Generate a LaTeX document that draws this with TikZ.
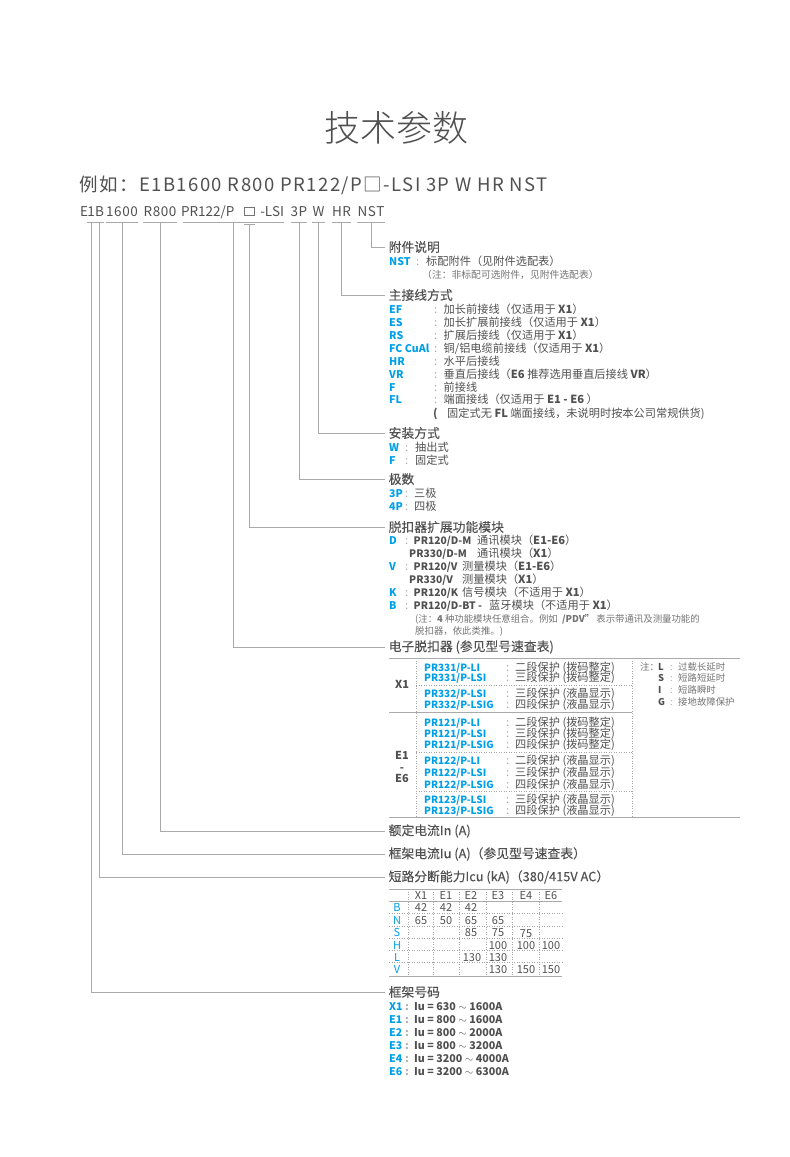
\documentclass[tikz,border=0pt]{standalone}
\usepackage{fontspec}
\setmainfont{Noto Sans CJK SC}
\newfontfamily\lightfont{Noto Sans CJK SC Light}
\usepackage{xcolor}
\usetikzlibrary{positioning}
\definecolor{ink}{RGB}{80, 80, 80}
\definecolor{soft}{RGB}{115, 115, 115}
\definecolor{keyblue}{RGB}{0, 160, 233}
\definecolor{wire}{RGB}{170, 170, 170}
\definecolor{faint}{RGB}{165, 165, 165}
\newcommand{\sep}[1]{\makebox[#1pt][l]{\textcolor{wire}{:}}}
\newcommand{\modl}[1]{{\fontsize{10.3}{12}\bfseries\selectfont #1}}
\tikzstyle{code} = [
    anchor=south,
    inner sep=0pt,
    text height=10pt,
    text depth=5pt,
    text=ink,
    font=\fontsize{13.5}{14}\addfontfeatures{LetterSpace=4}\selectfont
]
\tikzstyle{heading} = [
    anchor=west,
    inner xsep=3.5pt,
    inner ysep=0pt,
    text=ink,
    font=\fontsize{12.8}{14}\addfontfeatures{FakeBold=0.15}\selectfont
]
\tikzstyle{key} = [
    anchor=west,
    inner sep=0pt,
    text height=10pt,
    text depth=2pt,
    text=keyblue,
    font=\fontsize{10.6}{12}\bfseries\selectfont
]
\tikzstyle{tkey} = [
    key,
    font=\fontsize{10}{12}\bfseries\selectfont
]
\tikzstyle{val} = [
    anchor=west,
    inner sep=0pt,
    text height=10pt,
    text depth=2pt,
    text=ink,
    font=\fontsize{11.2}{12}\selectfont
]
\tikzstyle{rate} = [
    val,
    font=\fontsize{10.7}{12}\bfseries\selectfont
]
\tikzstyle{small} = [
    anchor=west,
    inner sep=0pt,
    text height=10pt,
    text depth=2pt,
    text=soft,
    font=\fontsize{9.4}{11}\selectfont
]
\tikzstyle{smallkey} = [
    small,
    text=ink,
    font=\fontsize{9.4}{11}\bfseries\selectfont
]
\tikzstyle{cell} = [
    inner sep=0pt,
    text height=10pt,
    text depth=2pt,
    text=ink,
    font=\fontsize{11}{12}\selectfont
]
\tikzstyle{framecell} = [
    cell,
    font=\fontsize{11}{12}\bfseries\selectfont
]
\tikzstyle{link} = [
    wire,
    line width=0.9pt
]
\tikzstyle{rule} = [
    wire,
    line width=1pt
]
\tikzstyle{dots} = [
    faint,
    line width=0.5pt,
    dotted
]
\begin{document}
\begin{tikzpicture}[x=1pt, y=-1pt]
    \useasboundingbox (0,0) rectangle (790,1157);
    \node[text=ink, font=\lightfont\fontsize{36}{40}\selectfont, inner sep=0pt] (title) at (396,128) {技术参数};
    \node[anchor=west, inner sep=0pt, text=ink, font=\fontsize{18.5}{20}\addfontfeatures{LetterSpace=7.9}\selectfont] (sample) at (79,185) {例如：E1B1600 R800 PR122/P□-LSI 3P W HR NST};

    % model code, split into the parts the leaders start from
    \node[code, minimum width=8pt] (codeE) at (84,222) {E};
    \node[code, minimum width=6pt] (codeOne) at (91,222) {1};
    \node[code, minimum width=7pt] (codeB) at (99.5,222) {B};
    \node[code, minimum width=30pt] (codeRated) at (122,222) {1600};
    \node[code, minimum width=34pt] (codeR) at (160,222) {R800};
    \node[code, minimum width=101pt, font=\fontsize{13.5}{14}\selectfont] (codePR) at (233.5,222) {\makebox[101pt]{\hspace{-2pt}PR122/P\hfill-LSI}};
    \node[draw=soft, line width=0.5pt, minimum width=10pt, minimum height=8.5pt, inner sep=0pt] (codeBox) at (249.5,211) {};
    \node[code, minimum width=16pt] (codeP) at (299,222) {3P};
    \node[code, minimum width=11pt] (codeW) at (318.5,222) {W};
    \node[code, minimum width=19pt] (codeHR) at (341.5,222) {HR};
    \node[code, minimum width=26pt] (codeNST) at (371,222) {NST};
    \coordinate (boxRule) at (249.5,224.5);

    \draw[rule] (codeOne.south west) -- (codeOne.south east);
    \draw[rule] (codeB.south west) -- (codeB.south east);
    \draw[rule] (codeRated.south west) -- (codeRated.south east);
    \draw[rule] (codeR.south west) -- (codeR.south east);
    \draw[rule] (codePR.south west) -- (codePR.south east);
    \draw[rule] ([xshift=-5.5pt]boxRule) -- ([xshift=5.5pt]boxRule);
    \draw[rule] (codeP.south west) -- (codeP.south east);
    \draw[rule] (codeW.south west) -- (codeW.south east);
    \draw[rule] (codeHR.south west) -- (codeHR.south east);
    \draw[rule] (codeNST.south west) -- (codeNST.south east);

    % accessories
    \node[heading] (hdNST) at (385,247) {附件说明};
    \node[key] (nstKey) at (389,261) {NST};
    \node[val] (nstVal) at (416,261) {\sep{10}标配附件（见附件选配表）};
    \node[small, font=\fontsize{9.8}{11}\selectfont] (nstNote) at (422,274) {（注：非标配可选附件，见附件选配表）};

    % main wiring
    \node[heading] (hdMain) at (385,295) {主接线方式};
    \node[key] (efKey) at (389,309) {EF};
    \node[val] (efVal) at (434,309) {\sep{9.5}加长前接线（仅适用于 \textbf{X1}）};
    \node[key] (esKey) at (389,322) {ES};
    \node[val] (esVal) at (434,322) {\sep{9.5}加长扩展前接线（仅适用于 \textbf{X1}）};
    \node[key] (rsKey) at (389,335) {RS};
    \node[val] (rsVal) at (434,335) {\sep{9.5}扩展后接线（仅适用于 \textbf{X1}）};
    \node[key] (fcKey) at (389,348) {FC CuAl};
    \node[val] (fcVal) at (434,348) {\sep{9.5}铜/铝电缆前接线（仅适用于 \textbf{X1}）};
    \node[key] (hrKey) at (389,361) {HR};
    \node[val] (hrVal) at (434,361) {\sep{9.5}水平后接线};
    \node[key] (vrKey) at (389,374) {VR};
    \node[val] (vrVal) at (434,374) {\sep{9.5}垂直后接线（\textbf{E6} 推荐选用垂直后接线 \textbf{VR}）};
    \node[key] (fKey) at (389,387) {F};
    \node[val] (fVal) at (434,387) {\sep{9.5}前接线};
    \node[key] (flKey) at (389,399) {FL};
    \node[val] (flVal) at (434,399) {\sep{9.5}端面接线（仅适用于 \textbf{E1 - E6} ）};
    \node[val] (flNote) at (433,413) {\makebox[14pt][l]{\textbf{(}}固定式无 \textbf{FL} 端面接线，未说明时按本公司常规供货)};

    % mounting
    \node[heading] (hdMount) at (385,433) {安装方式};
    \node[key] (wKey) at (389,447) {W};
    \node[val] (wVal) at (405,447) {\sep{10}抽出式};
    \node[key] (fixKey) at (389,460) {F};
    \node[val] (fixVal) at (405,460) {\sep{10}固定式};

    % poles
    \node[heading] (hdPole) at (385,479) {极数};
    \node[key] (threeKey) at (389,493) {3P};
    \node[val] (threeVal) at (405,493) {\sep{9}三极};
    \node[key] (fourKey) at (389,506) {4P};
    \node[val] (fourVal) at (405,506) {\sep{9}四极};

    % trip unit extension modules
    \node[heading] (hdExt) at (385,527) {脱扣器扩展功能模块};
    \node[key] (dKey) at (389,540) {D};
    \node[val] (dVal) at (405,540) {\sep{8.5}\makebox[63.5pt][l]{\modl{PR120/D-M}}通讯模块（\textbf{E1-E6}）};
    \node[val] (dVal2) at (409,553) {\makebox[68pt][l]{\modl{PR330/D-M}}通讯模块（\textbf{X1}）};
    \node[key] (vKey) at (389,566) {V};
    \node[val] (vVal) at (405,566) {\sep{8.5}\makebox[48.5pt][l]{\modl{PR120/V}}测量模块（\textbf{E1-E6}）};
    \node[val] (vVal2) at (409,579) {\makebox[53pt][l]{\modl{PR330/V}}测量模块（\textbf{X1}）};
    \node[key] (kKey) at (389,592) {K};
    \node[val] (kVal) at (405,592) {\sep{8.5}\makebox[48.5pt][l]{\modl{PR120/K}}信号模块（不适用于 \textbf{X1}）};
    \node[key] (bKey) at (389,605) {B};
    \node[val] (bVal) at (405,605) {\sep{8.5}\makebox[75.5pt][l]{\modl{PR120/D-BT -}}蓝牙模块（不适用于 \textbf{X1}）};
    \node[small] (extNote) at (415,618) {(注：\textbf{4} 种功能模块任意组合。例如 \ \textbf{/PDV”} 表示带通讯及测量功能的};
    \node[small] (extNote2) at (415,630) {脱扣器，依此类推。)};

    % electronic trip unit
    \node[heading] (hdTrip) at (385,647) {电子脱扣器 (参见型号速查表)};
    \draw[rule] (389,658) -- (740,658);
    \draw[rule] (389,712) -- (632,712);
    \draw[rule] (389,817) -- (740,817);
    \draw[dots] (416,658) -- (416,817);
    \draw[dots] (632,658) -- (632,817);
    \draw[dots] (416,685) -- (632,685);
    \draw[dots] (416,752) -- (632,752);
    \draw[dots] (416,791) -- (632,791);
    \node[framecell] (frameXone) at (402,684) {X1};
    \node[framecell] (frameEone) at (402,755) {E1};
    \node[framecell] (frameDash) at (402,767) {-};
    \node[framecell] (frameEsix) at (402,778) {E6};
    \node[tkey] (pr331a) at (424,667) {PR331/P-LI};
    \node[val] (pr331aVal) at (506,667) {\sep{9}二段保护 (拨码整定)};
    \node[tkey] (pr331b) at (424,677) {PR331/P-LSI};
    \node[val] (pr331bVal) at (506,677.5) {\sep{9}三段保护 (拨码整定)};
    \node[tkey] (pr332a) at (424,693) {PR332/P-LSI};
    \node[val] (pr332aVal) at (506,693) {\sep{9}三段保护 (液晶显示)};
    \node[tkey] (pr332b) at (424,704) {PR332/P-LSIG};
    \node[val] (pr332bVal) at (506,704) {\sep{9}四段保护 (液晶显示)};
    \node[tkey] (pr121a) at (424,722) {PR121/P-LI};
    \node[val] (pr121aVal) at (506,722) {\sep{9}二段保护 (拨码整定)};
    \node[tkey] (pr121b) at (424,733) {PR121/P-LSI};
    \node[val] (pr121bVal) at (506,733) {\sep{9}三段保护 (拨码整定)};
    \node[tkey] (pr121c) at (424,744) {PR121/P-LSIG};
    \node[val] (pr121cVal) at (506,744) {\sep{9}四段保护 (拨码整定)};
    \node[tkey] (pr122a) at (424,760) {PR122/P-LI};
    \node[val] (pr122aVal) at (506,760) {\sep{9}二段保护 (液晶显示)};
    \node[tkey] (pr122b) at (424,772) {PR122/P-LSI};
    \node[val] (pr122bVal) at (506,772) {\sep{9}三段保护 (液晶显示)};
    \node[tkey] (pr122c) at (424,784) {PR122/P-LSIG};
    \node[val] (pr122cVal) at (506,784) {\sep{9}四段保护 (液晶显示)};
    \node[tkey] (pr123a) at (424,799) {PR123/P-LSI};
    \node[val] (pr123aVal) at (506,799) {\sep{9}三段保护 (液晶显示)};
    \node[tkey] (pr123b) at (424,810) {PR123/P-LSIG};
    \node[val] (pr123bVal) at (506,810) {\sep{9}四段保护 (液晶显示)};
    \node[small] (protNote) at (640,666) {注：};
    \node[smallkey] (protL) at (658,666) {L};
    \node[small] (protLVal) at (670,666) {\sep{8}过载长延时};
    \node[smallkey] (protS) at (658,677.5) {S};
    \node[small] (protSVal) at (670,677.5) {\sep{8}短路短延时};
    \node[smallkey] (protI) at (658,689) {I};
    \node[small] (protIVal) at (670,689) {\sep{8}短路瞬时};
    \node[smallkey] (protG) at (658,701) {G};
    \node[small] (protGVal) at (670,701) {\sep{8}接地故障保护};

    % ratings
    \node[heading] (hdIn) at (385,831) {额定电流In (A)};
    \node[heading] (hdIu) at (385,854) {框架电流Iu (A)（参见型号速查表）};
    \node[heading] (hdIcu) at (385,877) {短路分断能力Icu (kA)（380/415V AC）};

    % breaking capacity table
    \draw[rule] (389,889) -- (562,889);
    \draw[rule] (389,901) -- (562,901);
    \draw[rule] (389,976) -- (562,976);
    \draw[dots] (389,913.5) -- (562,913.5);
    \draw[dots] (389,926) -- (562,926);
    \draw[dots] (389,938) -- (562,938);
    \draw[dots] (389,950) -- (562,950);
    \draw[dots] (389,962) -- (562,962);
    \draw[dots] (408,889) -- (408,976);
    \draw[dots] (433,889) -- (433,976);
    \draw[dots] (459,889) -- (459,976);
    \draw[dots] (486,889) -- (486,976);
    \draw[dots] (512,889) -- (512,976);
    \draw[dots] (539,889) -- (539,976);
    \node[cell] (colXone) at (421,895) {X1};
    \node[cell] (colEone) at (446,895) {E1};
    \node[cell] (colEtwo) at (471,895) {E2};
    \node[cell] (colEthree) at (498,895) {E3};
    \node[cell] (colEfour) at (526,895) {E4};
    \node[cell] (colEsix) at (551,895) {E6};
    \node[cell, text=keyblue] (rowB) at (397,907) {B};
    \node[cell, text=keyblue] (rowN) at (397,920) {N};
    \node[cell, text=keyblue] (rowS) at (397,932) {S};
    \node[cell, text=keyblue] (rowH) at (397,945) {H};
    \node[cell, text=keyblue] (rowL) at (397,957) {L};
    \node[cell, text=keyblue] (rowV) at (397,969) {V};
    \node[cell] (bXone) at (421,907) {42};
    \node[cell] (bEone) at (446,907) {42};
    \node[cell] (bEtwo) at (471,907) {42};
    \node[cell] (nXone) at (421,920) {65};
    \node[cell] (nEone) at (446,920) {50};
    \node[cell] (nEtwo) at (471,920) {65};
    \node[cell] (nEthree) at (498,920) {65};
    \node[cell] (sEtwo) at (471,932) {85};
    \node[cell] (sEthree) at (498,932) {75};
    \node[cell] (sEfour) at (526,933) {75};
    \node[cell] (hEthree) at (498,945) {100};
    \node[cell] (hEfour) at (526,945) {100};
    \node[cell] (hEsix) at (551,945) {100};
    \node[cell] (lEtwo) at (472,957) {130};
    \node[cell] (lEthree) at (498,957) {130};
    \node[cell] (vEthree) at (498,969) {130};
    \node[cell] (vEfour) at (526,969) {150};
    \node[cell] (vEsix) at (551,969) {150};

    % frame size
    \node[heading] (hdFrame) at (385,992) {框架号码};
    \node[key] (frXone) at (389,1006) {X1};
    \node[rate] (frXoneVal) at (405,1006) {\sep{9}Iu = 630 $\sim$ 1600A};
    \node[key] (frEone) at (389,1019) {E1};
    \node[rate] (frEoneVal) at (405,1019) {\sep{9}Iu = 800 $\sim$ 1600A};
    \node[key] (frEtwo) at (389,1032) {E2};
    \node[rate] (frEtwoVal) at (405,1032) {\sep{9}Iu = 800 $\sim$ 2000A};
    \node[key] (frEthree) at (389,1045) {E3};
    \node[rate] (frEthreeVal) at (405,1045) {\sep{9}Iu = 800 $\sim$ 3200A};
    \node[key] (frEfour) at (389,1058) {E4};
    \node[rate] (frEfourVal) at (405,1058) {\sep{9}Iu = 3200 $\sim$ 4000A};
    \node[key] (frEsix) at (389,1071) {E6};
    \node[rate] (frEsixVal) at (405,1071) {\sep{9}Iu = 3200 $\sim$ 6300A};

    % leaders
    \draw[link] (codeNST.south) |- (hdNST.west);
    \draw[link] (codeHR.south) |- (hdMain.west);
    \draw[link] (codeW.south) |- (hdMount.west);
    \draw[link] (codeP.south) |- (hdPole.west);
    \draw[link] (boxRule) |- (hdExt.west);
    \draw[link] (codePR.south) |- (hdTrip.west);
    \draw[link] (codeR.south) |- (hdIn.west);
    \draw[link] (codeRated.south) |- (hdIu.west);
    \draw[link] (codeB.south) |- (hdIcu.west);
    \draw[link] (codeOne.south) |- (hdFrame.west);
\end{tikzpicture}
\end{document}
